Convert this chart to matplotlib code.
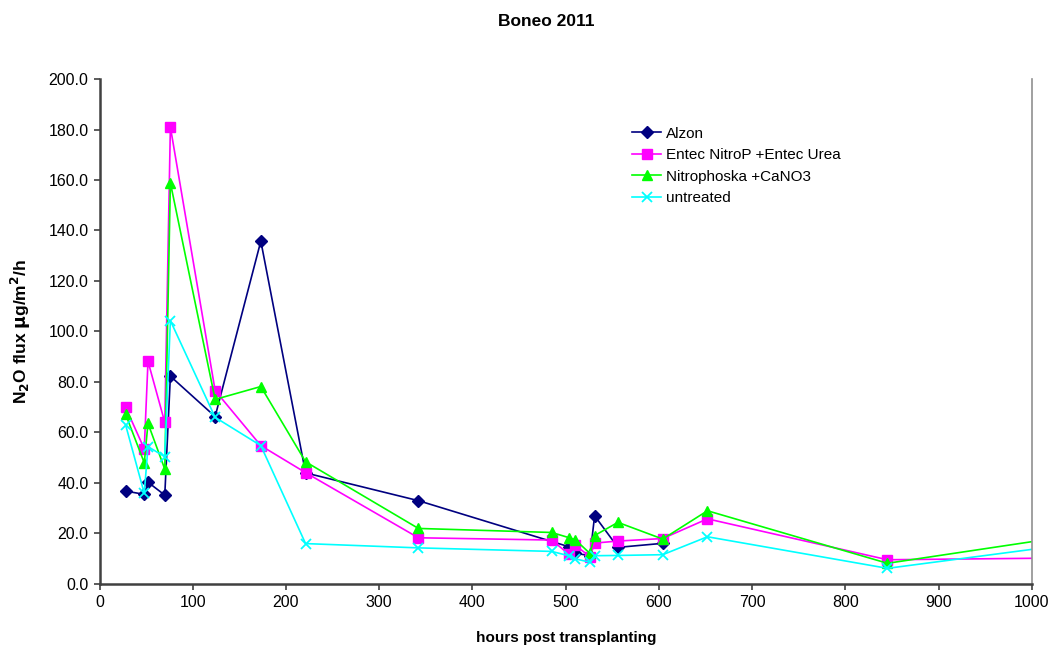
import matplotlib
matplotlib.use("Agg")
import matplotlib.pyplot as plt
from matplotlib.ticker import FormatStrFormatter, MultipleLocator

plt.rcParams['font.family'] = ['Liberation Sans', 'DejaVu Sans']

# Sampling times (hours post transplanting)
hours_alzon = [28, 48, 52, 70, 76, 124, 173, 221, 342, 503, 510, 526, 531, 556, 604]
alzon = [36.8, 35.5, 40.3, 35.2, 82.3, 66.3, 135.8, 44.0, 33.0, 14.8, 12.2, 11.2, 27.0, 14.5, 16.1]

hours = [28, 48, 52, 70, 76, 124, 173, 221, 342, 485, 503, 510, 526, 531, 556, 604, 652, 845, 1008]
entec = [70.0, 53.5, 88.2, 64.0, 181.0, 76.6, 54.8, 44.1, 18.3, 17.4, 11.9, 15.4, 10.8, 16.2, 17.0, 18.0, 25.8, 9.6, 10.2]
nitrophoska = [67.2, 48.0, 63.6, 45.5, 158.9, 73.1, 78.2, 48.4, 22.0, 20.4, 18.4, 17.6, 12.1, 19.2, 24.4, 17.8, 29.0, 8.2, 17.2]
untreated = [63.0, 35.9, 54.4, 50.4, 104.3, 66.0, 54.8, 16.0, 14.3, 12.9, 11.2, 10.0, 8.6, 11.2, 11.3, 11.6, 18.7, 6.2, 14.1]

labels = ["Alzon", "Entec NitroP +Entec Urea", "Nitrophoska +CaNO3", "untreated"]

fig = plt.figure(figsize=(10.53, 6.46), dpi=100)
ax = fig.add_axes([0.0945, 0.096, 0.8855, 0.7817])

lw = 1.2
ax.plot(hours_alzon, alzon, color='#000080', marker='D', markersize=6, lw=lw, label=labels[0])
ax.plot(hours, entec, color='#FF00FF', marker='s', markersize=6.5, lw=lw, label=labels[1])
ax.plot(hours, nitrophoska, color='#00FF00', marker='^', markersize=7.5, lw=lw, label=labels[2])
ax.plot(hours, untreated, color='#00FFFF', marker='x', markersize=6.5, mew=1.3, lw=lw, label=labels[3])

ax.set_xlim(0, 1000)
ax.set_ylim(0, 200)
ax.xaxis.set_major_locator(MultipleLocator(100))
ax.yaxis.set_major_locator(MultipleLocator(20))
ax.yaxis.set_major_formatter(FormatStrFormatter('%.1f'))
ax.tick_params(direction='out', length=4, width=1.2, color='#404040', labelsize=11.5, pad=4)

for side in ('left', 'bottom'):
    ax.spines[side].set_color('#404040')
    ax.spines[side].set_linewidth(1.8)
ax.spines['right'].set_color('#909090')
ax.spines['right'].set_linewidth(1.2)
ax.spines['top'].set_visible(False)

ax.set_xlabel('hours post transplanting', fontsize=11, fontweight='bold', labelpad=15)
ax.set_ylabel(r'N$_\mathbf{2}$O flux $\mathbf{\mu}$g/m$^\mathbf{2}$/h', fontsize=12.5, fontweight='bold', labelpad=11)

fig.text(546 / 1053, 1 - 22 / 646, 'Boneo 2011', ha='center', va='center', fontsize=12.5, fontweight='bold')

leg = ax.legend(loc='upper left', bbox_to_anchor=(0.565, 0.918), frameon=False, fontsize=11,
                handlelength=1.9, handletextpad=0.3, labelspacing=0.5, borderaxespad=0)

fig.savefig('out.png', dpi=100)
